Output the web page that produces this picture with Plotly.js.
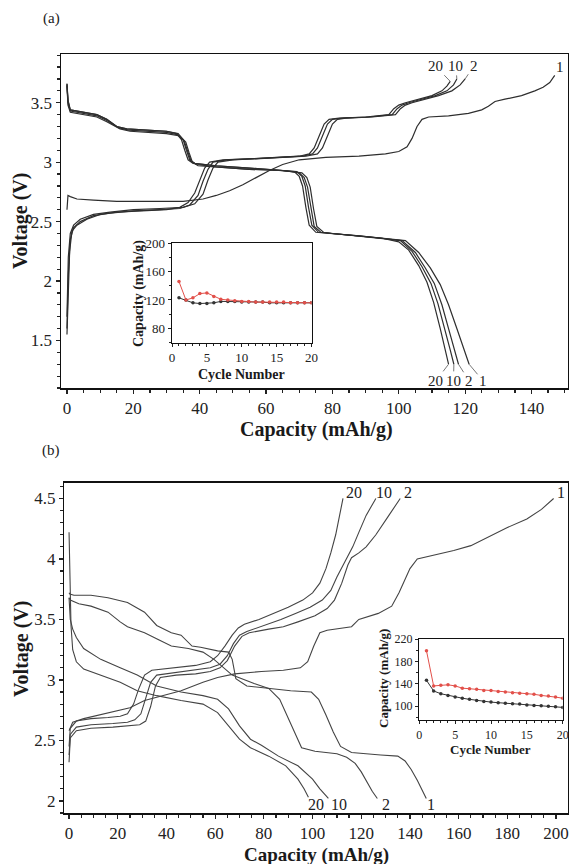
<!DOCTYPE html>
<html>
<head>
<meta charset="utf-8">
<script src="https://cdn.plot.ly/plotly-3.0.1.min.js"></script>
<style>html,body{margin:0;padding:0;background:#fff;}#chart{width:569px;height:864px;}</style>
</head>
<body>
<div id="chart"></div>
<script>
// ---------- Panel (a): charge / discharge curves ----------
const a_dis20_x = [0, 0.3, 1.0, 3, 6, 9, 12, 15, 18, 24, 30, 33, 34.5, 35.5, 36.5, 38, 45, 55, 65, 68.5, 70, 71, 72, 73, 75, 80, 88, 95, 100, 103, 106, 108.5, 110.5, 112.5, 114, 115];
const a_dis20_y = [3.66, 3.52, 3.44, 3.43, 3.42, 3.40, 3.36, 3.30, 3.28, 3.27, 3.26, 3.24, 3.19, 3.10, 3.02, 2.99, 2.97, 2.95, 2.93, 2.92, 2.88, 2.80, 2.62, 2.47, 2.41, 2.40, 2.38, 2.36, 2.33, 2.26, 2.13, 1.99, 1.82, 1.60, 1.42, 1.30];
const a_dis10_x = [0, 0.3, 1.0, 3, 6, 9, 12, 15, 18, 24, 30, 33.5, 35, 36, 37, 38.5, 45, 55, 65, 69.3, 70.8, 71.8, 72.8, 73.8, 75.8, 80, 88, 95, 100.5, 104, 107, 109.7, 111.8, 113.9, 115.5, 116.6];
const a_dis10_y = [3.66, 3.52, 3.44, 3.43, 3.42, 3.40, 3.36, 3.30, 3.28, 3.27, 3.26, 3.24, 3.19, 3.10, 3.02, 2.99, 2.97, 2.95, 2.93, 2.92, 2.88, 2.80, 2.62, 2.47, 2.41, 2.40, 2.38, 2.36, 2.34, 2.25, 2.12, 1.98, 1.81, 1.60, 1.42, 1.30];
const a_dis2_x = [0, 0.3, 1.0, 3, 6, 9, 12, 15.5, 18.5, 24, 30, 33.5, 35.3, 36.4, 37.4, 39, 45, 55, 65, 70, 71.5, 72.5, 73.5, 74.5, 76.5, 80, 88, 95, 101, 105, 108, 110.7, 113, 115, 116.8, 118];
const a_dis2_y = [3.65, 3.50, 3.43, 3.42, 3.41, 3.39, 3.35, 3.29, 3.27, 3.26, 3.25, 3.23, 3.18, 3.09, 3.01, 2.98, 2.96, 2.94, 2.93, 2.91, 2.87, 2.79, 2.61, 2.46, 2.41, 2.40, 2.38, 2.36, 2.34, 2.24, 2.11, 1.98, 1.80, 1.60, 1.42, 1.30];
const a_dis1_x = [0, 0.3, 1.0, 3, 6, 9, 12, 16, 19, 24, 30, 34, 35.8, 36.8, 37.8, 39.5, 45, 55, 65, 70.8, 72.3, 73.3, 74.3, 75.3, 77.3, 80, 88, 95, 102, 106, 109.5, 112.5, 115, 117.5, 119.8, 121.2];
const a_dis1_y = [3.64, 3.48, 3.42, 3.41, 3.40, 3.38, 3.34, 3.28, 3.26, 3.25, 3.24, 3.22, 3.17, 3.08, 3.00, 2.97, 2.96, 2.94, 2.93, 2.91, 2.87, 2.79, 2.61, 2.46, 2.41, 2.40, 2.38, 2.36, 2.34, 2.24, 2.11, 1.97, 1.80, 1.60, 1.42, 1.30];

const a_ch20_x = [0, 0.3, 0.8, 1.5, 3, 6, 10, 15, 22, 30, 34, 36.5, 38.5, 40, 41.5, 43, 47, 56, 65, 70, 73, 74.5, 76, 77.5, 79, 82, 90, 97, 98.5, 100, 102, 106, 110, 113, 114.5, 115.5];
const a_ch20_y = [1.55, 1.90, 2.25, 2.42, 2.47, 2.52, 2.56, 2.58, 2.59, 2.60, 2.62, 2.66, 2.74, 2.85, 2.95, 3.00, 3.02, 3.03, 3.04, 3.05, 3.07, 3.12, 3.22, 3.32, 3.36, 3.37, 3.38, 3.40, 3.45, 3.48, 3.50, 3.53, 3.56, 3.60, 3.64, 3.68];
const a_ch10_x = [0, 0.4, 1.0, 2, 4, 8, 13, 20, 28, 34, 37, 39.5, 41, 42.5, 44, 48, 57, 66, 71, 74, 75.5, 77, 78.5, 80, 83, 91, 98, 99.5, 101, 103, 107, 111, 114.5, 116.5, 117.5];
const a_ch10_y = [1.60, 2.05, 2.35, 2.45, 2.50, 2.55, 2.57, 2.59, 2.60, 2.61, 2.64, 2.72, 2.84, 2.94, 3.00, 3.02, 3.03, 3.04, 3.05, 3.07, 3.12, 3.22, 3.32, 3.36, 3.37, 3.38, 3.40, 3.45, 3.48, 3.50, 3.53, 3.56, 3.60, 3.65, 3.70];
const a_ch2_x = [0, 0.4, 1.0, 2, 4, 8, 13, 20, 28, 35, 38.5, 41, 42.5, 44, 45.5, 50, 58, 67, 72, 75.5, 77, 78.5, 80, 81.5, 84, 92, 99, 100.5, 102, 104, 108, 112, 116, 118.5, 120];
const a_ch2_y = [1.70, 2.20, 2.40, 2.47, 2.52, 2.56, 2.58, 2.60, 2.61, 2.62, 2.65, 2.73, 2.85, 2.95, 3.00, 3.02, 3.03, 3.04, 3.05, 3.07, 3.12, 3.22, 3.32, 3.36, 3.37, 3.38, 3.40, 3.45, 3.48, 3.50, 3.53, 3.56, 3.60, 3.65, 3.70];
const a_ch1_x = [0, 0.3, 1, 3, 8, 15, 25, 35, 41, 45, 49, 53, 57, 61, 65, 70, 78, 88, 96, 100, 102.5, 104, 105.5, 107, 109, 115, 121, 125, 127, 129, 132, 137, 141, 143.5, 145.5, 147];
const a_ch1_y = [2.60, 2.72, 2.71, 2.69, 2.68, 2.67, 2.67, 2.67, 2.69, 2.72, 2.76, 2.81, 2.87, 2.93, 2.98, 3.02, 3.04, 3.05, 3.07, 3.09, 3.13, 3.20, 3.30, 3.36, 3.38, 3.39, 3.41, 3.44, 3.47, 3.51, 3.53, 3.56, 3.60, 3.63, 3.67, 3.73];

// labels of panel (a): text, label position, curve end
const a_lab_text = ['20', '10', '2', '1', '20', '10', '2', '1'];
const a_lab_x = [111, 117.2, 122.6, 148.5, 111.2, 116.5, 121.2, 125.4];
const a_lab_y = [3.81, 3.81, 3.81, 3.80, 1.16, 1.16, 1.16, 1.16];
const a_end_x = [115.5, 117.5, 120, 147, 115, 116.6, 118, 121.2];
const a_end_y = [3.68, 3.70, 3.70, 3.73, 1.30, 1.30, 1.30, 1.30];

// inset (a)
const a_cycles = [1,2,3,4,5,6,7,8,9,10,11,12,13,14,15,16,17,18,19,20];
const a_charge = [146, 120, 123, 129, 130, 125, 121, 120, 119, 118, 118, 117, 117, 117, 117, 117, 116, 116, 116, 116];
const a_discharge = [123, 120, 116, 115, 115, 116, 118, 118, 118, 117, 117, 117, 117, 116, 116, 116, 116, 116, 116, 116];

// ---------- Panel (b) ----------
const b_ch1_x = [0, 1.5, 6, 15, 21, 25, 31, 39, 46, 55, 61, 68, 79, 88, 95, 98, 100.5, 103, 106, 116, 119, 127, 132.5, 135.5, 140, 143, 150, 158, 165, 173, 180, 188, 194, 199];
const b_ch1_y = [2.58, 2.65, 2.68, 2.72, 2.75, 2.77, 2.83, 2.87, 2.91, 2.98, 3.02, 3.05, 3.07, 3.08, 3.10, 3.15, 3.28, 3.39, 3.41, 3.44, 3.50, 3.55, 3.61, 3.72, 3.92, 4.00, 4.03, 4.07, 4.11, 4.19, 4.26, 4.33, 4.41, 4.50];
const b_ch2_x = [0, 0.5, 3, 9, 18, 24, 29, 31.5, 33.5, 35.5, 37.5, 44, 52, 58, 62, 65, 68, 71, 74, 82, 88, 94, 101, 106, 109, 112, 114.5, 116, 119, 122, 126, 131, 136];
const b_ch2_y = [2.32, 2.52, 2.58, 2.60, 2.61, 2.62, 2.63, 2.66, 2.78, 2.95, 3.02, 3.04, 3.05, 3.07, 3.10, 3.16, 3.28, 3.36, 3.39, 3.42, 3.44, 3.48, 3.53, 3.59, 3.66, 3.80, 3.95, 4.01, 4.05, 4.10, 4.20, 4.35, 4.50];
const b_ch10_x = [0, 0.5, 3, 9, 18, 24, 27, 29.5, 31.5, 33.5, 36, 44, 52, 58, 62, 65, 67.5, 70, 73, 80, 87, 93, 99, 104, 107.5, 110, 112.5, 114.5, 116.5, 119, 122, 126];
const b_ch10_y = [2.38, 2.55, 2.61, 2.63, 2.64, 2.65, 2.67, 2.72, 2.85, 2.98, 3.04, 3.06, 3.08, 3.10, 3.13, 3.20, 3.30, 3.37, 3.40, 3.45, 3.50, 3.55, 3.60, 3.66, 3.74, 3.85, 3.95, 4.02, 4.10, 4.22, 4.36, 4.50];
const b_ch20_x = [0, 0.5, 3, 9, 16, 21, 24, 26.5, 28.5, 31, 34, 42, 52, 58, 61, 64, 67, 69.5, 72, 78, 84, 90, 96, 100, 103, 105.5, 107.5, 109.5, 111, 112.5];
const b_ch20_y = [2.45, 2.60, 2.66, 2.68, 2.69, 2.70, 2.72, 2.80, 2.92, 3.04, 3.08, 3.10, 3.12, 3.15, 3.20, 3.28, 3.37, 3.43, 3.46, 3.50, 3.55, 3.60, 3.66, 3.72, 3.80, 3.92, 4.05, 4.20, 4.35, 4.50];

const b_dis1_x = [0, 0.3, 2, 9, 16, 24, 31, 36, 42, 46, 50.5, 54, 61, 65.5, 67, 68.5, 73, 82, 91, 99.5, 102.5, 105.5, 108.5, 111.5, 116, 128, 135, 138, 140.5, 143, 145, 146.7];
const b_dis1_y = [3.72, 3.71, 3.70, 3.70, 3.68, 3.64, 3.56, 3.45, 3.39, 3.37, 3.28, 3.27, 3.24, 3.23, 3.17, 3.01, 2.95, 2.93, 2.91, 2.90, 2.84, 2.71, 2.57, 2.45, 2.40, 2.38, 2.37, 2.33, 2.26, 2.17, 2.09, 2.02];
const b_dis2_x = [0, 0.5, 4, 9, 16, 21, 24, 31, 37, 42, 49, 55, 59.5, 62.5, 67, 76, 82, 86.5, 89.5, 92.5, 95.5, 101, 110, 114, 117.5, 120, 122, 124.5, 126.6];
const b_dis2_y = [3.68, 3.66, 3.63, 3.61, 3.56, 3.48, 3.44, 3.39, 3.33, 3.28, 3.26, 3.23, 3.17, 3.12, 3.04, 2.97, 2.93, 2.84, 2.71, 2.57, 2.44, 2.41, 2.39, 2.36, 2.31, 2.24, 2.17, 2.08, 2.02];
const b_dis10_x = [0, 0.5, 1.5, 3, 6, 13, 21, 28, 36, 46, 55, 61, 65.5, 70, 74.5, 79, 86, 94, 100, 103, 106.5];
const b_dis10_y = [3.68, 3.50, 3.42, 3.35, 3.26, 3.17, 3.10, 3.04, 2.95, 2.90, 2.87, 2.84, 2.76, 2.62, 2.51, 2.46, 2.37, 2.29, 2.18, 2.10, 2.02];
const b_dis20_x = [0, 0.3, 0.8, 1.5, 3, 6, 13, 21, 28, 36, 46, 55, 61, 65.5, 70, 74.5, 82, 89, 94, 96.5, 98.3];
const b_dis20_y = [4.22, 3.80, 3.45, 3.25, 3.15, 3.09, 3.04, 2.98, 2.91, 2.87, 2.83, 2.80, 2.73, 2.62, 2.51, 2.44, 2.37, 2.29, 2.18, 2.10, 2.03];

const b_lab_text = ['20', '10', '2', '1', '20', '10', '2', '1'];
const b_lab_x = [117, 129.5, 139, 202, 101.5, 111, 130, 148.5];
const b_lab_y = [4.55, 4.55, 4.55, 4.55, 1.97, 1.97, 1.97, 1.97];

// inset (b)
const b_cycles = [1,2,3,4,5,6,7,8,9,10,11,12,13,14,15,16,17,18,19,20];
const b_charge = [199, 136, 137, 138, 136, 132, 131, 130, 128, 128, 126, 125, 124, 123, 122, 121, 119, 118, 116, 114];
const b_discharge = [146, 127, 122, 119, 116, 114, 112, 110, 108, 107, 106, 105, 104, 103.5, 102, 101, 100.5, 99.5, 98.5, 97.6];

// ---------- build ----------
const W = 569, H = 864;
const styleA = {color: '#2e2e2e', width: 1.2};
const styleB = {color: '#444', width: 1.1};
function curve(x, y, xa, ya, st) {
  return {x: x, y: y, xaxis: xa, yaxis: ya, type: 'scatter', mode: 'lines', line: st, hoverinfo: 'skip'};
}
const traces = [
  curve(a_dis20_x, a_dis20_y, 'x', 'y', styleA), curve(a_dis10_x, a_dis10_y, 'x', 'y', styleA),
  curve(a_dis2_x, a_dis2_y, 'x', 'y', styleA), curve(a_dis1_x, a_dis1_y, 'x', 'y', styleA),
  curve(a_ch20_x, a_ch20_y, 'x', 'y', styleA), curve(a_ch10_x, a_ch10_y, 'x', 'y', styleA),
  curve(a_ch2_x, a_ch2_y, 'x', 'y', styleA), curve(a_ch1_x, a_ch1_y, 'x', 'y', styleA),
  curve(b_dis20_x, b_dis20_y, 'x2', 'y2', styleB), curve(b_dis10_x, b_dis10_y, 'x2', 'y2', styleB),
  curve(b_dis2_x, b_dis2_y, 'x2', 'y2', styleB), curve(b_dis1_x, b_dis1_y, 'x2', 'y2', styleB),
  curve(b_ch20_x, b_ch20_y, 'x2', 'y2', styleB), curve(b_ch10_x, b_ch10_y, 'x2', 'y2', styleB),
  curve(b_ch2_x, b_ch2_y, 'x2', 'y2', styleB), curve(b_ch1_x, b_ch1_y, 'x2', 'y2', styleB),
  {x: a_cycles, y: a_discharge, xaxis: 'x3', yaxis: 'y3', mode: 'lines+markers', line: {color: '#333', width: 1}, marker: {color: '#333', size: 3.5}},
  {x: a_cycles, y: a_charge, xaxis: 'x3', yaxis: 'y3', mode: 'lines+markers', line: {color: '#e2504a', width: 1}, marker: {color: '#e2504a', size: 3.5}},
  {x: b_cycles, y: b_discharge, xaxis: 'x4', yaxis: 'y4', mode: 'lines+markers', line: {color: '#333', width: 1}, marker: {color: '#333', size: 3.5}},
  {x: b_cycles, y: b_charge, xaxis: 'x4', yaxis: 'y4', mode: 'lines+markers', line: {color: '#e2504a', width: 1}, marker: {color: '#e2504a', size: 3.5}}
];

const serif = 'Liberation Serif';
const base = {showline: true, mirror: true, linecolor: '#111', linewidth: 1.5, ticks: 'outside', ticklen: 4, tickwidth: 1.2,
  tickcolor: '#222', showgrid: false, zeroline: false, tickfont: {family: serif, size: 17, color: '#222'}};
const insetBase = {showline: true, mirror: true, linecolor: '#111', linewidth: 1.3, ticks: 'outside', ticklen: 3, tickwidth: 1,
  tickcolor: '#222', showgrid: false, zeroline: false, tickfont: {family: serif, size: 13, color: '#222'}};

function pa(text, px, py, size, bold, angle) {
  return {text: text, x: px / W, y: 1 - py / H, xref: 'paper', yref: 'paper', xanchor: 'center', yanchor: 'middle',
    showarrow: false, textangle: angle || 0,
    font: {family: serif, size: size, weight: bold ? 'bold' : 'normal', color: '#1a1a1a'}};
}
const annotations = [
  pa('(a)', 51, 18, 15, false), pa('(b)', 51, 450, 15, false),
  pa('Capacity (mAh/g)', 316, 429, 20, true), pa('Voltage (V)', 21, 221, 20, true, -90),
  pa('Capacity (mAh/g)', 316, 854.5, 19, true), pa('Voltage (V)', 21, 649, 20, true, -90),
  pa('Cycle Number', 241.5, 374, 14, true), pa('Capacity (mAh/g)', 139, 294, 14, true, -90),
  pa('Cycle Number', 490, 749, 13, true), pa('Capacity (mAh/g)', 383, 679, 13, true, -90)
];
for (let i = 0; i < a_lab_text.length; i++) {
  annotations.push({text: a_lab_text[i], x: a_end_x[i], y: a_end_y[i], ax: a_lab_x[i], ay: a_lab_y[i],
    xref: 'x', yref: 'y', axref: 'x', ayref: 'y', showarrow: true, arrowhead: 0, arrowwidth: 0.8, arrowcolor: '#555', standoff: 0,
    font: {family: serif, size: 15, color: '#222'}});
}
for (let i = 0; i < b_lab_text.length; i++) {
  annotations.push({text: b_lab_text[i], x: b_lab_x[i], y: b_lab_y[i], xref: 'x2', yref: 'y2', showarrow: false,
    font: {family: serif, size: 16, color: '#222'}});
}

const layout = {
  width: W, height: H, margin: {l: 0, r: 0, t: 0, b: 0}, paper_bgcolor: '#fff', plot_bgcolor: '#fff', showlegend: false,
  font: {family: serif, color: '#222'},
  xaxis: Object.assign({}, base, {domain: [61 / W, 568 / W], range: [-1.8, 151], anchor: 'y', tick0: 0, dtick: 20,
    minor: {ticks: 'outside', dtick: 5, ticklen: 3, tickcolor: '#222'}}),
  yaxis: Object.assign({}, base, {domain: [1 - 388 / H, 1 - 54 / H], range: [1.1, 3.91], anchor: 'x', tick0: 0, dtick: 0.5,
    minor: {ticks: 'outside', dtick: 0.1, ticklen: 3, tickcolor: '#222'}}),
  xaxis2: Object.assign({}, base, {domain: [64.3 / W, 568 / W], range: [-1.95, 204.9], anchor: 'y2', tick0: 0, dtick: 20,
    minor: {ticks: 'outside', dtick: 5, ticklen: 3, tickcolor: '#222'}}),
  yaxis2: Object.assign({}, base, {domain: [1 - 813 / H, 1 - 482.5 / H], range: [1.90, 4.632], anchor: 'x2', tick0: 0, dtick: 0.5,
    minor: {ticks: 'outside', dtick: 0.1, ticklen: 3, tickcolor: '#222'}}),
  xaxis3: Object.assign({}, insetBase, {domain: [172 / W, 311.5 / W], range: [0, 20], anchor: 'y3', tickvals: [0, 5, 10, 15, 20],
    minor: {ticks: 'outside', dtick: 1, ticklen: 2, tickcolor: '#222'}}),
  yaxis3: Object.assign({}, insetBase, {domain: [1 - 342.5 / H, 1 - 243.3 / H], range: [60, 200], anchor: 'x3', tickvals: [80, 120, 160, 200],
    minor: {ticks: 'outside', dtick: 20, ticklen: 2, tickcolor: '#222'}}),
  xaxis4: Object.assign({}, insetBase, {domain: [419.3 / W, 562.7 / W], range: [0, 20], anchor: 'y4', tickvals: [0, 5, 10, 15, 20],
    tickfont: {family: serif, size: 12, color: '#222'},
    minor: {ticks: 'outside', dtick: 1, ticklen: 2, tickcolor: '#222'}}),
  yaxis4: Object.assign({}, insetBase, {domain: [1 - 720 / H, 1 - 639 / H], range: [75, 220], anchor: 'x4', tickvals: [100, 140, 180, 220],
    tickfont: {family: serif, size: 12, color: '#222'},
    minor: {ticks: 'outside', dtick: 20, ticklen: 2, tickcolor: '#222'}}),
  annotations: annotations
};

Plotly.newPlot('chart', traces, layout, {staticPlot: true, displayModeBar: false});
</script>
</body>
</html>
